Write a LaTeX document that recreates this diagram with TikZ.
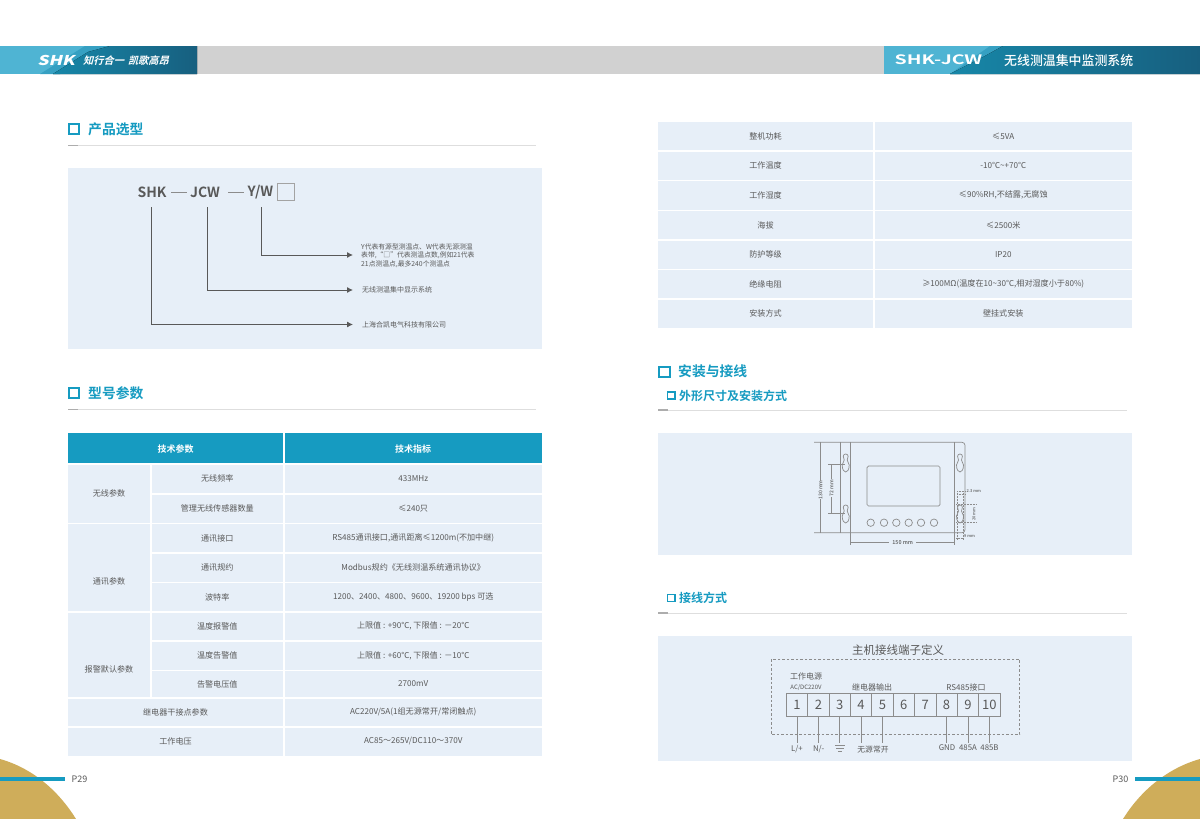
\documentclass[tikz,border=0pt]{standalone}
\usepackage{fontspec}
\setmainfont{Noto Sans CJK SC}
\newfontfamily\slantbold[FakeSlant=0.25]{Noto Sans CJK SC Bold}
\newfontfamily\logofont[FakeSlant=0.25,FakeStretch=1.3]{Noto Sans CJK SC Black}
\newfontfamily\widebold[FakeStretch=1.5]{Noto Sans CJK SC Bold}
\newfontfamily\boldcjk{Noto Sans CJK SC Bold}
\newfontfamily\medcjk{Noto Sans CJK SC Medium}
\usetikzlibrary{arrows.meta,calc}
\definecolor{panel}{HTML}{E7EFF8}
\definecolor{teal}{HTML}{169BC1}
\definecolor{txt}{HTML}{595959}
\definecolor{gold}{HTML}{CFAD5A}
\definecolor{lightb}{HTML}{4FB4D3}
\definecolor{darkb}{HTML}{175F7F}
\definecolor{midb}{HTML}{1787A8}
\definecolor{bandb}{HTML}{36A0C2}
\definecolor{draft}{HTML}{8C8C8C}
\tikzset{
  celltxt/.style={font=\fontsize{8.1}{9}\selectfont,text=txt,inner sep=0pt,anchor=center},
  headtxt/.style={font=\boldcjk\fontsize{9}{10}\selectfont,text=white,inner sep=0pt,anchor=center},
  headbig/.style={font=\boldcjk\fontsize{13.8}{14}\selectfont,text=teal,inner sep=0pt,anchor=west},
  headsmall/.style={font=\boldcjk\fontsize{12}{13}\selectfont,text=teal,inner sep=0pt,anchor=west},
  code/.style={font=\boldcjk\fontsize{14}{15}\selectfont,text=txt,inner sep=0pt,anchor=center},
  note/.style={font=\fontsize{6.8}{8.6}\selectfont,text=txt,inner sep=0pt,anchor=west,align=left},
  leader/.style={draw=txt,line width=.9pt,-{Latex[length=6pt,width=6pt]}},
  dev/.style={draw=draft,line width=.7pt},
  devd/.style={draw=draft,line width=.5pt,densely dotted},
  dimtxt/.style={font=\medcjk\fontsize{5}{6}\selectfont,text=txt,inner sep=0pt},
  term/.style={draw=draft,fill=panel,line width=.6pt,minimum width=21.4pt,minimum height=22.7pt,inner sep=0pt,font=\fontsize{13}{14}\selectfont,text=txt},
  wire/.style={draw=draft,line width=.6pt},
  tlabel/.style={font=\fontsize{7.8}{9}\selectfont,text=txt,inner sep=0pt},
}
\newcommand{\sqbox}[5]{\draw[teal,line width=#5] (#1,#2) rectangle (#3,#4);}
\newcommand{\tcell}[6]{\fill[panel] (#1,#2) rectangle (#3,#4);
  \node[celltxt] (#5) at ({(#1+#3)/2},{(#2+#4)/2}) {#6};}
\newcommand{\gcell}[6]{\fill[panel] (#1,#2) rectangle (#3,#4);
  \node[celltxt] (#5) at ({(#1+#3)/2},#6);}
\newcommand{\secrule}[3]{\draw[draw=black!13,line width=.9pt] (#1,#3) -- (#2,#3);
  \draw[draw=black!32,line width=1.8pt] (#1,#3) -- ({#1+10},#3);}
\newcommand{\keyhole}[2]{\draw[dev,fill=panel] (#1,{#2-9})
  .. controls ({#1+3},{#2-9}) and ({#1+3},{#2-5}) .. ({#1+1.5},{#2-3})
  .. controls ({#1+1},{#2-2}) and ({#1+3.5},{#2}) .. ({#1+3.5},{#2+2})
  .. controls ({#1+3.5},{#2+7}) and ({#1+1.5},{#2+9}) .. (#1,{#2+9})
  .. controls ({#1-1.5},{#2+9}) and ({#1-3.5},{#2+7}) .. ({#1-3.5},{#2+2})
  .. controls ({#1-3.5},{#2}) and ({#1-1},{#2-2}) .. ({#1-1.5},{#2-3})
  .. controls ({#1-3},{#2-5}) and ({#1-3},{#2-9}) .. (#1,{#2-9}) -- cycle;}
\begin{document}
\begin{tikzpicture}[x=1pt,y=-1pt]
\useasboundingbox (0,0) rectangle (1200,819);
\fill[white] (0,0) rectangle (1200,819);

% header band
\fill[black!18] (197,46) rectangle (884,74);
\fill[lightb] (0,46) rectangle (197,74);
\fill[bandb] (40,74) -- (85,46) -- (112,46) -- (60,74) -- cycle;
\fill[left color=midb,right color=darkb] (53,74) -- (88,52) -- (110,46) -- (197,46) -- (197,74) -- cycle;
\node[inner sep=0pt,text=white,font=\logofont\fontsize{13.5}{14}\selectfont] (brandL) at (56,60) {SHK};
\node[inner sep=0pt,text=white,font=\slantbold\fontsize{10.2}{11}\selectfont,anchor=west] (sloganL) at (83,60.5) {知行合一 \,凯歌高昂};
\fill[lightb] (884,46) rectangle (1200,74);
\fill[bandb] (950,74) -- (990,46) -- (1003,46) -- (960,74) -- cycle;
\fill[left color=midb,right color=darkb] (950,74) -- (985,56) -- (1003,46) -- (1200,46) -- (1200,74) -- cycle;
\node[inner sep=0pt,text=white,font=\widebold\fontsize{13}{13}\selectfont,anchor=center] (brandR) at (938.5,60) {SHK-JCW};
\node[inner sep=0pt,text=white,font=\medcjk\fontsize{12.9}{13}\selectfont,anchor=west] (sloganR) at (1004,60.5) {无线测温集中监测系统};

% corners
\fill[gold] (0,759) .. controls (32,768) and (58,790) .. (76,819) -- (0,819) -- cycle;
\fill[gold] (1200,759) .. controls (1168,768) and (1141,790) .. (1123,819) -- (1200,819) -- cycle;
\fill[teal] (0,777) rectangle (65,781);
\fill[teal] (1135,777) rectangle (1200,781);
\node[inner sep=0pt,text=txt,font=\fontsize{9}{10}\selectfont,anchor=west] (p29) at (71.5,779) {P29};
\node[inner sep=0pt,text=txt,font=\fontsize{9}{10}\selectfont,anchor=east] (p30) at (1128.5,779) {P30};

% section headings
\sqbox{68.5}{123.5}{79}{134}{2pt}
\node[headbig] (h1) at (88,129) {产品选型};
\secrule{68}{536}{145.5}
\sqbox{68.5}{387.5}{79}{398}{2pt}
\node[headbig] (h2) at (88,393) {型号参数};
\secrule{68}{536}{409.5}
\sqbox{659}{366.5}{669.5}{377}{2pt}
\node[headbig] (h3) at (678,371.5) {安装与接线};
\sqbox{667.5}{392}{675}{399}{1.4pt}
\node[headsmall] (h4) at (679,395.5) {外形尺寸及安装方式};
\secrule{658}{1127}{410}
\sqbox{667.5}{594.5}{675}{601.5}{1.4pt}
\node[headsmall] (h5) at (679,598) {接线方式};
\secrule{658}{1127}{613}

% product selection panel
\fill[panel] (68,168) rectangle (542,349);
\node[code] (shk) at (152,192) {SHK};
\node[code] (jcw) at (205,192) {JCW};
\node[code] (yw) at (260.5,192) {Y/W};
\draw[draft,line width=.5pt] (171,192.5) -- (187,192.5);
\draw[draft,line width=.5pt] (228,192.5) -- (244,192.5);
\node[draw=draft!80,line width=.6pt,minimum width=17pt,minimum height=17.5pt,inner sep=0pt] (boxsq) at (285.5,192) {};
\coordinate (a1) at (151,207);\coordinate (b1) at (151,324.5);
\coordinate (a2) at (207.5,207);\coordinate (b2) at (207.5,290);
\coordinate (a3) at (261.5,207);\coordinate (b3) at (261.5,255);
\node[note] (n1) at (361,255.5) {Y代表有源型测温点、W代表无源测温\\表带,“□”代表测温点数,例如21代表\\21点测温点,最多240个测温点};
\node[note,font=\fontsize{7}{9}\selectfont] (n2) at (362,290) {无线测温集中显示系统};
\node[note,font=\fontsize{7}{9}\selectfont] (n3) at (362,324.5) {上海合凯电气科技有限公司};
\draw[leader] (a1) -- (b1) -- (353,324.5);
\draw[leader] (a2) -- (b2) -- (353,290);
\draw[leader] (a3) -- (b3) -- (353,255);

% parameter table
\fill[teal] (68,433) rectangle (283,463);
\fill[teal] (284.5,433) rectangle (542,463);
\node[headtxt] (t0a) at (175.5,449) {技术参数};
\node[headtxt] (t0b) at (413,449) {技术指标};
\tcell{68}{464.5}{150}{522.5}{ga}{无线参数}
\tcell{151.5}{464.5}{283}{493}{r1a}{无线频率}
\tcell{284.5}{464.5}{542}{493}{r1b}{433MHz}
\tcell{151.5}{494.5}{283}{522.5}{r2a}{管理无线传感器数量}
\tcell{284.5}{494.5}{542}{522.5}{r2b}{≤240只}
\fill[panel] (68,524) rectangle (150,611);
\node[celltxt] (gb) at (109,581) {通讯参数};
\tcell{151.5}{524}{283}{552}{r3a}{通讯接口}
\tcell{284.5}{524}{542}{552}{r3b}{RS485通讯接口,通讯距离≤1200m(不加中继)}
\tcell{151.5}{553.5}{283}{581.5}{r4a}{通讯规约}
\tcell{284.5}{553.5}{542}{581.5}{r4b}{Modbus规约《无线测温系统通讯协议》}
\tcell{151.5}{583}{283}{611}{r5a}{波特率}
\tcell{284.5}{583}{542}{611}{r5b}{1200、2400、4800、9600、19200 bps 可选}
\fill[panel] (68,612.5) rectangle (150,697);
\node[celltxt] (gc) at (109,669) {报警默认参数};
\tcell{151.5}{612.5}{283}{640}{r6a}{温度报警值}
\tcell{284.5}{612.5}{542}{640}{r6b}{上限值 : +90℃, 下限值 : －20℃}
\tcell{151.5}{641.5}{283}{669.5}{r7a}{温度告警值}
\tcell{284.5}{641.5}{542}{669.5}{r7b}{上限值 : +60℃, 下限值 : －10℃}
\tcell{151.5}{671}{283}{697}{r8a}{告警电压值}
\tcell{284.5}{671}{542}{697}{r8b}{2700mV}
\tcell{68}{698.5}{283}{726}{r9a}{继电器干接点参数}
\tcell{284.5}{698.5}{542}{726}{r9b}{AC220V/5A(1组无源常开/常闭触点)}
\tcell{68}{727.5}{283}{755.5}{r10a}{工作电压}
\tcell{284.5}{727.5}{542}{755.5}{r10b}{AC85～265V/DC110～370V}

% right table
\tcell{658}{122}{873}{150}{s1a}{整机功耗}
\tcell{874.5}{122}{1132}{150}{s1b}{≤5VA}
\tcell{658}{151.5}{873}{179.5}{s2a}{工作温度}
\tcell{874.5}{151.5}{1132}{179.5}{s2b}{-10℃\textasciitilde+70℃}
\tcell{658}{181}{873}{209.5}{s3a}{工作湿度}
\tcell{874.5}{181}{1132}{209.5}{s3b}{≤90\%RH,不结露,无腐蚀}
\tcell{658}{211}{873}{239}{s4a}{海拔}
\tcell{874.5}{211}{1132}{239}{s4b}{≤2500米}
\tcell{658}{240.5}{873}{268.5}{s5a}{防护等级}
\tcell{874.5}{240.5}{1132}{268.5}{s5b}{IP20}
\tcell{658}{270}{873}{298}{s6a}{绝缘电阻}
\tcell{874.5}{270}{1132}{298}{s6b}{≥100MΩ(温度在10\textasciitilde30℃,相对湿度小于80\%)}
\tcell{658}{299.5}{873}{327.5}{s7a}{安装方式}
\tcell{874.5}{299.5}{1132}{327.5}{s7b}{壁挂式安装}

% dimension panel
\fill[panel] (658,433) rectangle (1132,555);
\draw[dev] (814,442.3) -- (962,442.3) to[out=0,in=90] (965,445.3) -- (965,529.7) to[out=-90,in=0] (962,532.7) -- (814,532.7);
\draw[dev] (840,442.3) -- (840,532.7);
\draw[dev] (850.7,442.3) -- (850.7,545);
\draw[dev] (954.7,442.3) -- (954.7,545);
\draw[dev,rounded corners=1.5pt] (867,466) rectangle (940,506);
\foreach \cx in {870.7,884,896.3,908.7,921,934} \draw[dev] (\cx,522.7) circle (3.7);
\keyhole{845.7}{463}\keyhole{845.7}{514}\keyhole{960}{463}\keyhole{960}{514}
\draw[dev] (828,464) -- (845,464);
\draw[dev] (828,513.7) -- (845,513.7);
\node[dimtxt,rotate=90] (d130) at (820.5,490) {130 mm};
\node[dimtxt,rotate=90] (d72) at (831.5,488) {72 mm};
\node[dimtxt,font=\medcjk\fontsize{5.4}{6}\selectfont] (d150) at (902.7,542.5) {150 mm};
\draw[dev] (820.7,442.3) -- (820.7,481);
\draw[dev] (820.7,499) -- (820.7,532.7);
\draw[dev] (831.7,464) -- (831.7,479);
\draw[dev] (831.7,497) -- (831.7,513.7);
\draw[dev] (850.7,542.5) -- (889,542.5);
\draw[dev] (916,542.5) -- (954.7,542.5);
\node[dimtxt,anchor=west,font=\medcjk\fontsize{4}{5}\selectfont] (d1) at (966.5,491) {2.3 mm};
\node[dimtxt,rotate=90,font=\medcjk\fontsize{4}{5}\selectfont] (d2) at (974,514) {20 mm};
\node[dimtxt,anchor=west,font=\medcjk\fontsize{4}{5}\selectfont] (d3) at (964,536.5) {9 mm};
\draw[devd] (957,491) -- (966,491);
\draw[devd] (957,494) -- (966,494);
\draw[devd] (957,491) -- (957,540);
\draw[devd] (963,491) -- (963,540);
\draw[devd] (956,504.5) -- (977,504.5);
\draw[devd] (956,522.5) -- (977,522.5);
\draw[devd] (956,538) -- (963,538);

% terminal panel
\fill[panel] (658,636) rectangle (1132,761);
\node[inner sep=0pt,text=txt,font=\fontsize{11.5}{13}\selectfont] (tt) at (898,650.5) {主机接线端子定义};
\draw[draft,line width=.6pt,dash pattern=on 2.5pt off 2pt] (771,659) rectangle (1019.7,734.5);
\node[tlabel,font=\fontsize{8}{9}\selectfont] (l1) at (806,676.5) {工作电源};
\node[tlabel,font=\fontsize{6}{7}\selectfont] (l2) at (806,687.5) {AC/DC220V};
\node[tlabel,font=\fontsize{8}{9}\selectfont] (l3) at (872,687) {继电器输出};
\node[tlabel,font=\fontsize{8}{9}\selectfont] (l4) at (966,687) {RS485接口};
\foreach \i in {1,...,10} {
  \node[term] (c\i) at ({786.3+21.37*(\i-.5)},704.7) {\i};
}
\foreach \i in {1,2,3,4,5,8,9,10} {
  \coordinate (e\i) at ($(c\i.south)+(0,26.5)$);
  \draw[wire] (c\i.south) -- (e\i);
}
\node[tlabel] (o1) at (797,749.5) {L/+};
\node[tlabel] (o2) at (818.7,749.5) {N/-};
\draw[wire] (835,745.5) -- (845,745.5) (836,748.5) -- (843.5,748.5) (838,751.5) -- (841.5,751.5);
\node[tlabel] (o4) at (873,749.5) {无源常开};
\node[tlabel] (o8) at (947,748) {GND};
\node[tlabel] (o9) at (968,748) {485A};
\node[tlabel] (o10) at (989.5,748) {485B};
\end{tikzpicture}
\end{document}
